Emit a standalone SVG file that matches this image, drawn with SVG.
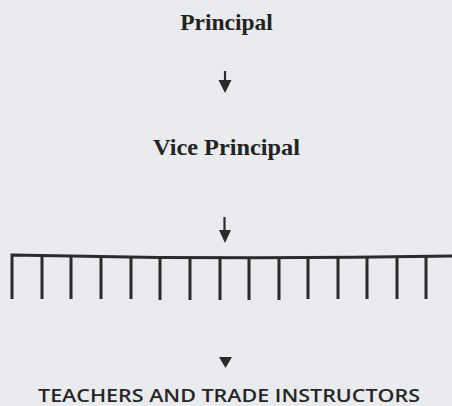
<svg xmlns="http://www.w3.org/2000/svg" width="452" height="406" viewBox="0 0 452 406">
  <style>
    .title { font-family: "Liberation Serif", "Times New Roman", serif; font-weight: bold; font-size: 23.5px; fill: #232323; text-anchor: middle; }
    .staff { font-family: "Open Sans", "Noto Sans", "Liberation Sans", sans-serif; font-weight: 600; font-size: 17.5px; fill: #262626; text-anchor: middle; }
    .line { stroke: #2b2b2b; stroke-width: 3; fill: none; }
    .shaft { stroke: #2b2b2b; stroke-width: 2.2; fill: none; }
    .head { fill: #2b2b2b; }
  </style>
  <rect width="452" height="406" fill="#e9ebee"/>

  <g id="principal">
    <text class="title" x="226.5" y="30">Principal</text>
  </g>

  <g id="vice-principal">
    <text class="title" x="226.5" y="155" textLength="147" lengthAdjust="spacingAndGlyphs">Vice Principal</text>
  </g>

  <g id="teachers">
    <text class="staff" x="229" y="402" textLength="382" lengthAdjust="spacingAndGlyphs">TEACHERS AND TRADE INSTRUCTORS</text>
  </g>

  <g id="connectors">
    <!-- Principal to Vice Principal -->
    <line class="shaft" x1="225" y1="71" x2="225" y2="82"/>
    <polygon class="head" points="218.5,80 231.5,80 225,93"/>
    <!-- Vice Principal down to the distribution bar -->
    <line class="shaft" x1="224.5" y1="217" x2="224.5" y2="232"/>
    <polygon class="head" points="219,230 231,230 225,243"/>
    <!-- distribution bar with drop lines -->
    <path class="line" d="M12,299 V255 Q230,260 452,256"/>
    <path class="line" d="M42,256 V299 M71,256.5 V299 M101,257 V299 M131,257.5 V299 M160,258 V300 M190,258 V300 M220,258 V300 M249,258 V300 M279,258 V300 M308,257.5 V299 M338,257.5 V299 M367,257 V299 M397,256.5 V299 M426,256.5 V299"/>
    <!-- pointer to teachers and trade instructors -->
    <polygon class="head" points="219,357 232,357 225.5,368"/>
  </g>
</svg>
